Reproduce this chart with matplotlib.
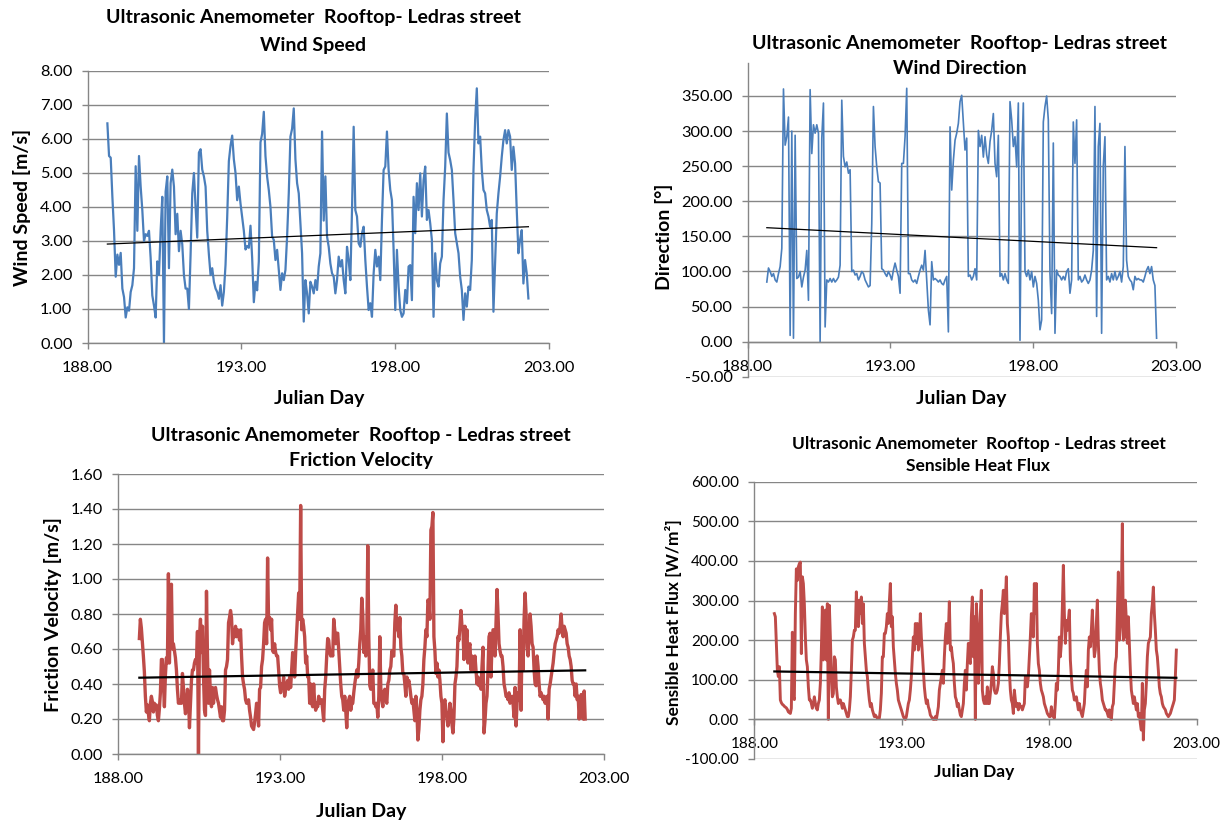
import numpy as np
import matplotlib
matplotlib.use("Agg")
import matplotlib.pyplot as plt
import matplotlib.ticker as ticker

plt.rcParams['font.family'] = ['Lato', 'DejaVu Sans']

# ---- data (regularly spaced samples between first/last day) ----
speed_days = (188.64, 202.33)
wind_speed = [
    6.46, 5.50, 5.45, 4.30, 3.30, 1.95, 2.60, 2.30, 2.65, 1.60,
    1.35, 0.75, 1.05, 0.95, 1.50, 1.70, 2.20, 5.20, 3.30, 5.50,
    4.60, 3.90, 3.00, 3.20, 3.15, 3.30, 2.50, 1.40, 1.10, 0.75,
    2.40, 2.00, 3.30, 4.30, 0.00, 4.45, 4.90, 2.20, 4.70, 5.10,
    4.60, 3.20, 3.80, 2.70, 3.30, 2.90, 2.00, 1.60, 1.60, 1.00,
    2.60, 4.40, 5.00, 4.00, 3.10, 5.60, 5.70, 5.10, 4.90, 4.60,
    3.30, 2.60, 2.00, 2.20, 1.80, 1.60, 1.50, 1.30, 1.70, 1.10,
    1.50, 2.30, 3.70, 5.35, 5.80, 6.10, 5.40, 5.00, 4.20, 4.60,
    4.10, 3.70, 3.30, 2.75, 2.85, 2.80, 3.45, 2.50, 1.20, 1.80,
    1.55, 2.40, 5.90, 6.15, 6.80, 5.50,
    4.89, 4.50, 4.00, 3.13, 3.03, 2.44, 2.74, 2.15, 1.56, 2.05,
    1.85, 2.15, 3.13, 4.40, 6.07, 6.30, 6.90, 5.40, 4.70, 4.40,
    3.52, 2.64, 0.63, 1.85, 1.46, 0.87, 1.80, 1.66, 1.46, 1.85,
    1.56, 2.25, 2.64, 6.22, 3.60, 4.90, 3.13, 2.83, 2.34, 2.05,
    1.95, 1.46, 1.85, 2.54, 2.25, 2.44, 1.85, 1.46, 2.83, 2.44,
    1.85, 3.91, 6.36, 3.91, 3.72, 2.93, 2.83, 3.23, 3.42, 2.44,
    1.66, 0.97, 1.17, 0.77, 2.05, 2.74, 2.25, 2.54, 1.85, 3.62,
    5.09, 5.19, 6.22, 5.09, 4.50, 4.20, 2.74, 0.97, 2.74, 1.66,
    0.97, 0.77, 0.87, 1.56, 1.17, 2.25, 2.29, 1.26, 4.30, 3.23,
    4.70, 3.91, 4.99, 3.72, 4.79, 5.19, 3.62, 3.91, 3.52, 3.03,
    0.77, 2.64, 1.85, 1.66, 2.34, 2.54, 4.20, 5.19, 6.75, 5.60,
    5.38, 5.09, 4.20, 3.23, 2.93, 2.64, 1.95, 1.56, 0.68, 1.46,
    1.07, 1.66, 1.56, 2.44, 5.09, 6.56, 7.49, 5.87, 6.07, 5.09,
    4.50, 4.40, 3.91, 3.72, 3.42, 3.62, 0.92, 2.34, 3.81, 4.40,
    4.89, 5.48, 5.97, 6.26, 5.87, 6.26, 6.07, 5.09, 5.77, 5.28,
    3.91, 2.64, 3.03, 3.32, 1.75, 2.44, 2.05, 1.31,
]
speed_trend = (2.91, 3.42)

direction_days = (188.67, 202.33)
wind_direction = [
    85, 105, 100, 93, 97, 88, 85, 97, 107, 133,
    360, 280, 292, 320, 9, 300, 5, 294, 90, 92,
    100, 78, 92, 102, 130, 59, 359, 268, 309, 297,
    309, 297, 0, 290, 340, 21, 88, 85, 90, 85,
    90, 85, 88, 92, 109, 344, 264, 249, 256, 240,
    245, 100, 102, 95, 97, 88, 93, 100, 97, 88,
    83, 78, 80, 168, 335, 278, 249, 228, 226, 104,
    102, 97, 93, 100, 95, 88, 102, 112, 102, 93,
    69, 254, 254, 292, 361, 97, 97, 88, 85, 88,
    83, 93, 102, 109, 102, 130, 88, 45, 24, 114,
    88, 90, 88, 85, 88, 83, 81, 88, 93, 14,
    306, 216, 258, 287, 297, 311, 342, 351, 311, 273,
    290, 93, 95, 88, 93, 104, 88, 301, 278, 294,
    263, 292, 266, 254, 285, 301, 325, 254, 235, 294,
    93, 97, 88, 97, 88, 83, 342, 316, 278, 292,
    249, 340, 2, 250, 340, 100, 93, 102, 88, 100,
    78, 93, 83, 59, 17, 31, 313, 335, 350, 316,
    97, 40, 283, 12, 102, 95, 93, 88, 93, 88,
    100, 104, 69, 88, 313, 254, 316, 88, 93, 85,
    88, 95, 88, 83, 88, 102, 130, 335, 36, 278,
    311, 12, 250, 292, 88, 93, 85, 97, 88, 100,
    88, 93, 100, 85, 107, 278, 116, 93, 88, 85,
    74, 93, 88, 90, 88, 88, 85, 93, 102, 107,
    97, 107, 88, 80, 5,
]
direction_trend = (162.4, 133.9)

friction_days = (188.65, 202.41)
friction_velocity = [
    0.66, 0.77, 0.72, 0.64, 0.56, 0.47, 0.33, 0.24, 0.28, 0.23,
    0.19, 0.29, 0.33, 0.30, 0.24, 0.29, 0.26, 0.28, 0.22, 0.19,
    0.26, 0.35, 0.54, 0.54, 0.40, 0.27, 0.45, 0.55, 0.52, 1.03,
    0.52, 0.80, 0.97, 0.60, 0.63, 0.59, 0.55, 0.48, 0.37, 0.29,
    0.31, 0.29, 0.29, 0.46, 0.38, 0.29, 0.23, 0.27, 0.37, 0.33,
    0.15, 0.29, 0.42, 0.48, 0.48, 0.52, 0.54, 0.52, 0.70, 0.00,
    0.67, 0.77, 0.58, 0.73, 0.45, 0.25, 0.22, 0.93, 0.56, 0.29,
    0.48, 0.33, 0.27, 0.38, 0.29, 0.37, 0.38, 0.34, 0.31, 0.29,
    0.25, 0.21, 0.27, 0.19, 0.19, 0.25, 0.48, 0.50, 0.54, 0.75,
    0.78, 0.82, 0.78, 0.63, 0.71, 0.67, 0.73, 0.67, 0.71, 0.69,
    0.65, 0.71, 0.56, 0.44, 0.40, 0.37, 0.31, 0.29, 0.29, 0.31,
    0.25, 0.21, 0.16, 0.15, 0.14, 0.18, 0.23, 0.29, 0.25, 0.16,
    0.37, 0.38, 0.50, 0.54, 0.63, 0.75, 0.77, 0.63, 1.12, 0.75,
    0.78, 0.71, 0.77, 0.59, 0.58, 0.63, 0.58, 0.56, 0.56, 0.48,
    0.39, 0.35, 0.40, 0.38, 0.44, 0.33, 0.37, 0.40, 0.42, 0.37,
    0.44, 0.38, 0.48, 0.58, 0.56, 0.44, 0.58, 0.69, 0.80, 0.92,
    0.77, 1.42, 0.71, 0.77, 0.73, 0.67, 0.52, 0.56, 0.44, 0.44,
    0.29, 0.40, 0.29, 0.27, 0.40, 0.29, 0.25, 0.29, 0.27, 0.33,
    0.29, 0.31, 0.31, 0.25, 0.19, 0.37, 0.44, 0.56, 0.66, 0.65,
    0.58, 0.56, 0.59, 0.56, 0.77, 0.71, 0.63, 0.69, 0.69, 0.59,
    0.48, 0.40, 0.33, 0.31, 0.25, 0.33, 0.25, 0.15, 0.29, 0.31,
    0.33, 0.25, 0.29, 0.29, 0.35, 0.40, 0.44, 0.48, 0.44, 0.52,
    0.63, 0.71, 0.89, 0.80, 0.58, 0.67, 0.56, 0.65, 1.19, 0.67,
    0.39, 0.37, 0.44, 0.48, 0.29, 0.29, 0.27, 0.29, 0.21, 0.33,
    0.67, 0.38, 0.31, 0.27, 0.35, 0.37, 0.31, 0.29, 0.40, 0.42,
    0.48, 0.50, 0.59, 0.56, 0.56, 0.75, 0.85, 0.71, 0.75, 0.67,
    0.78, 0.61, 0.56, 0.46, 0.46, 0.40, 0.33, 0.44, 0.40, 0.42,
    0.38, 0.33, 0.29, 0.31, 0.25, 0.19, 0.33, 0.25, 0.08, 0.14,
    0.25, 0.31, 0.33, 0.40, 0.54, 0.61, 0.71, 0.67, 0.88, 0.86,
    0.77, 1.28, 1.30, 1.38, 0.67, 0.59, 0.46, 0.52, 0.44, 0.48,
    0.42, 0.33, 0.29, 0.07, 0.29, 0.31, 0.25, 0.21, 0.16, 0.19,
    0.29, 0.25, 0.17, 0.12, 0.21, 0.40, 0.44, 0.50, 0.67, 0.65,
    0.73, 0.82, 0.73, 0.71, 0.54, 0.73, 0.63, 0.71, 0.52, 0.61,
    0.63, 0.48, 0.56, 0.52, 0.48, 0.56, 0.48, 0.40, 0.44, 0.39,
    0.40, 0.37, 0.50, 0.61, 0.12, 0.19, 0.29, 0.33, 0.48, 0.67,
    0.69, 0.44, 0.63, 0.71, 0.71, 0.56, 0.75, 0.94, 0.80, 0.63,
    0.59, 0.56, 0.56, 0.50, 0.40, 0.37, 0.33, 0.33, 0.31, 0.35,
    0.29, 0.31, 0.33, 0.29, 0.21, 0.38, 0.16, 0.29, 0.35, 0.31,
    0.71, 0.25, 0.67, 0.48, 0.77, 0.92, 0.80, 0.61, 0.56, 0.69,
    0.80, 0.73, 0.63, 0.61, 0.48, 0.40, 0.39, 0.56, 0.50, 0.40,
    0.33, 0.35, 0.33, 0.31, 0.33, 0.29, 0.31, 0.33, 0.20, 0.37,
    0.40, 0.44, 0.48, 0.52, 0.58, 0.63, 0.65, 0.67, 0.71, 0.69,
    0.73, 0.80, 0.71, 0.67, 0.73, 0.71, 0.69, 0.63, 0.61, 0.56,
    0.54, 0.50, 0.42, 0.40, 0.40, 0.33, 0.40, 0.31, 0.33, 0.20,
    0.29, 0.34, 0.31, 0.20, 0.36, 0.20,
]
friction_trend = (0.436, 0.478)

heat_days = (188.68, 202.31)
heat_flux = [
    267, 259, 192, 124, 108, 133, 49, 42, 38, 36,
    33, 31, 29, 25, 19, 17, 15, 28, 220, 57,
    50, 267, 380, 351, 385, 393, 397, 166, 360, 343,
    292, 208, 150, 133, 82, 49, 49, 40, 28, 40,
    57, 40, 28, 24, 40, 49, 91, 175, 284, 150,
    208, 276, 150, 292, 0, 288, 208, 108, 57, 65,
    158, 150, 82, 57, 40, 49, 49, 40, 28, 40,
    32, 24, 15, 7, 7, 24, 57, 124, 200, 208,
    225, 225, 322, 259, 234, 301, 267, 309, 242, 292,
    192, 158, 124, 108, 74, 49, 32, 40, 24, 15,
    7, 11, 7, 3, 3, 3, 24, 66, 158, 158,
    217, 217, 234, 267, 242, 297, 343, 234, 259, 183,
    150, 116, 91, 74, 49, 40, 32, 24, 15, 7,
    3, 0, 7, 24, 40, 49, 74, 108, 158, 208,
    175, 242, 192, 242, 175, 192, 267, 208, 166, 124,
    82, 57, 40, 49, 32, 24, 11, 7, 3, 0,
    0, 7, 0, 15, 32, 74, 91, 108, 124, 91,
    158, 208, 242, 192, 217, 297, 175, 183, 158, 141,
    91, 57, 49, 32, 40, 24, 11, 7, 24, 40,
    91, 124, 74, 141, 192, 150, 141, 259, 309, 158,
    259, 0, 292, 234, 91, 158, 267, 326, 74, 49,
    40, 57, 40, 82, 40, 40, 66, 91, 133, 116,
    74, 66, 66, 74, 91, 141, 208, 267, 292, 326,
    267, 301, 360, 242, 208, 124, 74, 49, 40, 15,
    74, 49, 32, 40, 24, 40, 32, 32, 24, 32,
    40, 108, 108, 82, 108, 158, 208, 267, 234, 208,
    343, 267, 343, 192, 141, 124, 91, 74, 66, 57,
    40, 32, 24, 15, 11, 7, 7, 32, 15, 7,
    3, 40, 91, 74, 124, 208, 158, 192, 284, 389,
    267, 192, 250, 225, 250, 276, 150, 108, 74, 66,
    49, 49, 57, 40, 24, 40, 24, 15, 7, 24,
    40, 91, 124, 82, 175, 208, 183, 225, 276, 208,
    158, 175, 242, 301, 192, 124, 91, 74, 49, 40,
    32, 24, 24, 15, 7, 24, 7, 0, 32, 40,
    91, 141, 158, 267, 372, 200, 234, 309, 494, 200,
    208, 301, 250, 192, 259, 192, 124, 74, 57, 40,
    57, 40, 24, 40, 7, 15, -10, -27, 91, -52,
    24, 40, 91, 158, 192, 200, 208, 267, 292, 334,
    267, 225, 175, 158, 124, 82, 65, 57, 40, 32,
    28, 24, 15, 11, 7, 11, 15, 24, 32, 40,
    49, 108, 175,
]
heat_trend = (121.0, 105.0)

x_ticks = [188, 193, 198, 203]
title_top = "Ultrasonic Anemometer  Rooftop- Ledras street"
title_top_b = "Ultrasonic Anemometer  Rooftop - Ledras street"

BLUE = '#4A7EBB'
RED = '#BE4B48'
GRID = '#868686'

W, H = 1228, 823
fig = plt.figure(figsize=(W / 100, H / 100), dpi=100)


def frame(x0, y_top, x1, y_bot):
    # pixel box -> figure fraction
    return [x0 / W, 1 - y_bot / H, (x1 - x0) / W, (y_bot - y_top) / H]


def put(x, y, s, size, rot=0):
    fig.text(x / W, 1 - y / H, s, ha='center', va='center', fontsize=size,
             fontweight='bold', rotation=rot, color='black')


def style(ax, ylim, yticks, zero_axis=False, lsize=11.8):
    ax.set_xlim(188, 203)
    ax.set_ylim(*ylim)
    ax.set_xticks(x_ticks)
    ax.set_yticks(yticks)
    ax.xaxis.set_major_formatter(ticker.FormatStrFormatter('%.2f'))
    ax.yaxis.set_major_formatter(ticker.FormatStrFormatter('%.2f'))
    ax.grid(axis='y', color=GRID, lw=1.0)
    ax.set_axisbelow(True)
    for s in ['top', 'right']:
        ax.spines[s].set_visible(False)
    for s in ['left', 'bottom']:
        ax.spines[s].set_color(GRID)
        ax.spines[s].set_linewidth(1.0)
    if zero_axis:
        ax.spines['bottom'].set_position(('data', 0))
    ax.tick_params(direction='out', length=4, width=1, color=GRID,
                   labelsize=lsize, labelcolor='black')
    ax.tick_params(axis='x', pad=9)
    ax.tick_params(axis='y', pad=7)


def series(ax, days, values, trend, color, lw, tlw):
    t = np.linspace(days[0], days[1], len(values))
    ax.plot(t, values, color=color, lw=lw, solid_joinstyle='round')
    ax.plot(days, trend, color='black', lw=tlw)


# Wind speed
ax1 = fig.add_axes(frame(87.7, 71, 549, 343))
series(ax1, speed_days, wind_speed, speed_trend, BLUE, 1.6, 0.9)
style(ax1, (0, 8), np.arange(0, 9, 1))
put(313, 18, title_top, 14)
put(313, 45, "Wind Speed", 14)
put(22, 207, "Wind Speed [m/s]", 14, 90)
put(319, 398, "Julian Day", 14)

# Wind direction
ax2 = fig.add_axes(frame(747.7, 63, 1175.7, 376.8))
series(ax2, direction_days, wind_direction, direction_trend, BLUE, 1.2, 0.9)
style(ax2, (-50, 397), np.arange(-50, 351, 50), zero_axis=True)
put(960, 43, title_top, 14)
put(960, 69, "Wind Direction", 14)
put(664, 237, "Direction [°]", 14, 90)
put(961, 398, "Julian Day", 14)

# Friction velocity
ax3 = fig.add_axes(frame(118.3, 474, 604.3, 754))
series(ax3, friction_days, friction_velocity, friction_trend, RED, 2.4, 1.6)
style(ax3, (0, 1.6), np.arange(0, 1.61, 0.2))
put(361, 435, title_top_b, 14)
put(361, 461, "Friction Velocity", 14)
put(53, 615, "Friction Velocity [m/s]", 14, 90)
put(361, 812, "Julian Day", 14)

# Sensible heat flux
ax4 = fig.add_axes(frame(754.3, 481.7, 1196.7, 759))
series(ax4, heat_days, heat_flux, heat_trend, RED, 2.1, 1.6)
style(ax4, (-100, 600), np.arange(-100, 601, 100), zero_axis=True, lsize=11)
put(979, 444, title_top_b, 12.5)
put(978, 466, "Sensible Heat Flux", 12.5)
put(674, 622, "Sensible Heat Flux [W/m²]", 12.5, 90)
put(974, 772, "Julian Day", 12.5)

fig.savefig("out.png", dpi=100, facecolor='white')
